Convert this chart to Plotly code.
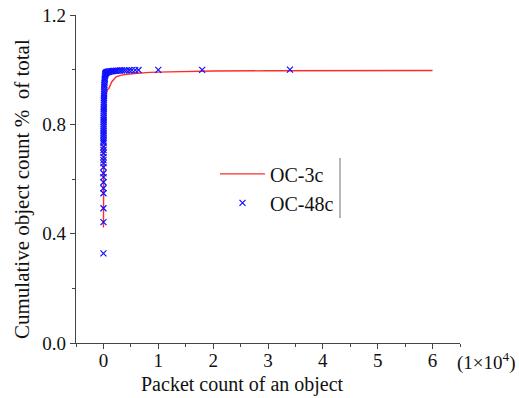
import plotly.graph_objects as go

# Packet counts per object and cumulative share of objects (OC-3c trace)
oc3_packets = [1, 2, 3, 5, 8, 15, 30, 60, 120, 250, 500, 700, 1000, 1500,
               2300, 3300, 4700, 6500, 8400, 12000, 20000, 30000, 45000, 60000]
oc3_cdf = [0.423, 0.52, 0.58, 0.64, 0.70, 0.76, 0.81, 0.85, 0.88, 0.90, 0.915,
           0.925, 0.932, 0.955, 0.974, 0.980, 0.984, 0.987, 0.990, 0.992,
           0.995, 0.996, 0.997, 0.997]

# Packet counts per object and cumulative share of objects (OC-48c trace)
oc48_packets = [1, 2, 3, 4, 5, 6, 7, 8, 9, 10, 11, 12, 13, 14, 15, 16, 17,
                18, 19, 20, 22, 24, 26, 28, 30, 33, 36, 40, 44, 48, 53, 58,
                64, 70, 77, 85, 94, 104, 115, 127, 140, 155, 170, 190, 210,
                235, 260, 290, 320, 350, 400, 450, 500, 600, 700, 800, 900,
                1000, 1200, 1400, 1600, 1800, 2000, 2300, 2600, 3000, 3400,
                3800, 4200, 4700, 5200, 5800, 6400, 10000, 18000, 34000]
oc48_cdf = [0.328, 0.442, 0.493, 0.548, 0.566, 0.588, 0.607, 0.621, 0.643,
            0.658, 0.669, 0.680, 0.695, 0.706, 0.717, 0.731, 0.738,
            0.745, 0.752, 0.760, 0.768, 0.776, 0.784, 0.792, 0.800, 0.808,
            0.816, 0.824, 0.832, 0.840, 0.848, 0.856, 0.864, 0.872, 0.880,
            0.888, 0.896, 0.904, 0.912, 0.920, 0.928, 0.936, 0.944, 0.952,
            0.960, 0.966, 0.972, 0.977, 0.981, 0.984, 0.986, 0.988, 0.989,
            0.990, 0.991, 0.992, 0.9925, 0.993, 0.9935, 0.994, 0.9945,
            0.995, 0.9955, 0.996, 0.9965, 0.997, 0.9972, 0.9975, 0.9977,
            0.998, 0.9982, 0.9985, 0.9987, 0.999, 0.9995, 1.0]

x_ticks = [0, 1, 2, 3, 4, 5, 6]
y_ticks = [0.0, 0.4, 0.8, 1.2]
SCALE = 1e4  # x axis is shown in units of 10^4 packets

FONT = "Times New Roman, Liberation Serif, DejaVu Serif, serif"
AXIS_COLOR = "#444444"
TEXT_COLOR = "#111111"

# plot area in pixels, used to place the free-standing labels
L, R, T, B = 76, 59, 15, 55
W, H = 519, 398
PW, PH = W - L - R, H - T - B


def px_x(px):
    return (px - L) / PW


def px_y(py):
    return (H - B - py) / PH


fig = go.Figure()
fig.add_trace(go.Scatter(
    x=[p / SCALE for p in oc3_packets], y=oc3_cdf, name="OC-3c",
    mode="lines", line=dict(color="#ff2a2a", width=1.4),
))
fig.add_trace(go.Scatter(
    x=[p / SCALE for p in oc48_packets], y=oc48_cdf, name="OC-48c",
    mode="markers",
    marker=dict(symbol="x-thin", size=6, color="#1010ff",
                line=dict(color="#1010ff", width=1.2)),
))

axis_common = dict(
    showline=True, linecolor=AXIS_COLOR, linewidth=1.2,
    ticks="outside", ticklen=5, tickwidth=1.2, tickcolor=AXIS_COLOR,
    showgrid=False, zeroline=False, mirror=False,
    tickfont=dict(family=FONT, size=19, color=TEXT_COLOR),
)

fig.update_layout(
    width=W, height=H,
    margin=dict(l=L, r=R, t=T, b=B, autoexpand=False),
    paper_bgcolor="white", plot_bgcolor="white",
    font=dict(family=FONT, color=TEXT_COLOR),
    xaxis=dict(
        range=[-0.5, 6.5], tickvals=x_ticks, automargin=False,
        ticklabelstandoff=-5,
        minor=dict(dtick=0.5, ticks="outside", ticklen=3,
                   tickcolor=AXIS_COLOR, tickwidth=1.2),
        **axis_common,
    ),
    yaxis=dict(
        range=[0, 1.2], tickvals=y_ticks, tickformat=".1f", automargin=False,
        minor=dict(dtick=0.2, ticks="outside", ticklen=3,
                   tickcolor=AXIS_COLOR, tickwidth=1.2),
        **axis_common,
    ),
    legend=dict(
        x=0.362, y=0.575, xanchor="left", yanchor="top",
        bgcolor="rgba(0,0,0,0)", borderwidth=0,
        font=dict(family=FONT, size=20, color=TEXT_COLOR),
        itemwidth=45,
    ),
    showlegend=True,
)

# axis titles
fig.add_annotation(
    x=px_x(242), y=px_y(385), xref="paper", yref="paper",
    text="Packet count of an object", showarrow=False,
    font=dict(family=FONT, size=20, color=TEXT_COLOR),
    xanchor="center", yanchor="middle",
)
fig.add_annotation(
    x=px_x(22), y=px_y(189), xref="paper", yref="paper",
    text="Cumulative object count %  of total", showarrow=False,
    textangle=-90,
    font=dict(family=FONT, size=21, color=TEXT_COLOR),
    xanchor="center", yanchor="middle",
)

# unit label beside the last x tick
fig.add_annotation(
    x=px_x(486), y=px_y(361), xref="paper", yref="paper",
    text="(1×10<sup>4</sup>)", showarrow=False,
    font=dict(family=FONT, size=19, color=TEXT_COLOR),
    xanchor="center", yanchor="middle",
)

# thin bar on the right side of the legend box
fig.add_shape(
    type="line", xref="paper", yref="paper",
    x0=px_x(340), x1=px_x(340), y0=px_y(158), y1=px_y(218),
    line=dict(color="#888888", width=1.2),
)

fig.write_html("out.html")
